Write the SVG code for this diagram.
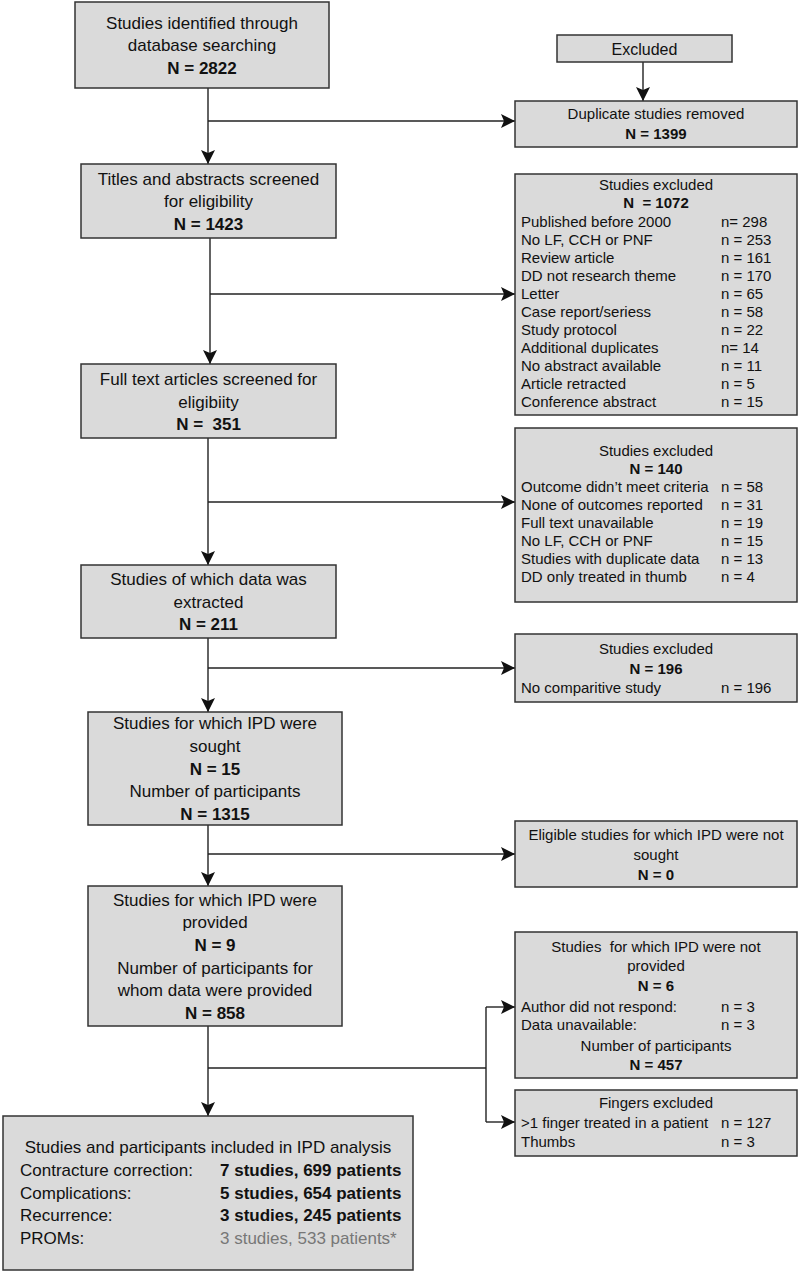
<svg xmlns="http://www.w3.org/2000/svg" width="800" height="1272" viewBox="0 0 800 1272">
<defs>
<marker id="ah" markerWidth="14" markerHeight="14" refX="14" refY="7" orient="auto" markerUnits="userSpaceOnUse"><path d="M0,0 L14,7 L0,14 L3,7 z" fill="#111"/></marker>
</defs>
<style>
.box{fill:#dadada;stroke:#333;stroke-width:1.5}
text{font-family:"Liberation Sans",Arial,sans-serif;fill:#111}
.m{font-size:17px;text-anchor:middle}
.s{font-size:15px}
.b{font-weight:bold}
.c{text-anchor:middle}
.g{fill:#777}
.conn path{fill:none;stroke:#222;stroke-width:1.4}
</style>
<rect width="800" height="1272" fill="#fff"/>

<g class="conn">
<path d="M208,88 V164" marker-end="url(#ah)"/>
<path d="M208,121 H515" marker-end="url(#ah)"/>
<path d="M643,62 V101" marker-end="url(#ah)"/>
<path d="M210,238 V364" marker-end="url(#ah)"/>
<path d="M210,294 H515" marker-end="url(#ah)"/>
<path d="M208,438 V565" marker-end="url(#ah)"/>
<path d="M208,502 H515" marker-end="url(#ah)"/>
<path d="M208,638 V712" marker-end="url(#ah)"/>
<path d="M208,668 H515" marker-end="url(#ah)"/>
<path d="M208,825 V886" marker-end="url(#ah)"/>
<path d="M208,854 H515" marker-end="url(#ah)"/>
<path d="M208,1026 V1116" marker-end="url(#ah)"/>
<path d="M208,1068 H486"/>
<path d="M486,1007 V1122"/>
<path d="M486,1007 H515" marker-end="url(#ah)"/>
<path d="M486,1122 H515" marker-end="url(#ah)"/>
</g>

<g id="identified">
<rect class="box" x="75" y="2" width="254" height="86"/>
<text class="m" x="202" y="29">Studies identified through</text>
<text class="m" x="202" y="51">database searching</text>
<text class="m b" x="202" y="74">N = 2822</text>
</g>

<g id="screened">
<rect class="box" x="81" y="164" width="255" height="74"/>
<text class="m" x="208.5" y="185">Titles and abstracts screened</text>
<text class="m" x="208.5" y="207">for eligibility</text>
<text class="m b" x="208.5" y="230">N = 1423</text>
</g>

<g id="fulltext">
<rect class="box" x="81" y="364" width="255" height="74"/>
<text class="m" x="208.5" y="385">Full text articles screened for</text>
<text class="m" x="208.5" y="408">eligibiity</text>
<text class="m b" x="208.5" y="430" xml:space="preserve">N =  351</text>
</g>

<g id="extracted">
<rect class="box" x="81" y="565" width="255" height="73"/>
<text class="m" x="208.5" y="585">Studies of which data was</text>
<text class="m" x="208.5" y="608">extracted</text>
<text class="m b" x="208.5" y="630">N = 211</text>
</g>

<g id="sought">
<rect class="box" x="88" y="712" width="254" height="113"/>
<text class="m" x="215" y="729">Studies for which IPD were</text>
<text class="m" x="215" y="752">sought</text>
<text class="m b" x="215" y="775">N = 15</text>
<text class="m" x="215" y="797">Number of participants</text>
<text class="m b" x="215" y="820">N = 1315</text>
</g>

<g id="provided">
<rect class="box" x="88" y="886" width="254" height="140"/>
<text class="m" x="215" y="906">Studies for which IPD were</text>
<text class="m" x="215" y="928">provided</text>
<text class="m b" x="215" y="951">N = 9</text>
<text class="m" x="215" y="974">Number of participants for</text>
<text class="m" x="215" y="996">whom data were provided</text>
<text class="m b" x="215" y="1019">N = 858</text>
</g>

<g id="included">
<rect class="box" x="3" y="1116" width="410" height="154"/>
<text class="m" x="208" y="1153">Studies and participants included in IPD analysis</text>
<text style="font-size:17px" x="20" y="1176">Contracture correction:</text>
<text style="font-size:17px" class="b" x="220" y="1176">7 studies, 699 patients</text>
<text style="font-size:17px" x="20" y="1199">Complications:</text>
<text style="font-size:17px" class="b" x="220" y="1199">5 studies, 654 patients</text>
<text style="font-size:17px" x="20" y="1221">Recurrence:</text>
<text style="font-size:17px" class="b" x="220" y="1221">3 studies, 245 patients</text>
<text style="font-size:17px" x="20" y="1244">PROMs:</text>
<text style="font-size:17px" class="g" x="220" y="1244">3 studies, 533 patients*</text>
</g>

<g id="excluded">
<rect class="box" x="557" y="35" width="175" height="27"/>
<text class="c" style="font-size:16px" x="644.5" y="54.5">Excluded</text>
</g>

<g id="duplicates">
<rect class="box" x="515" y="101" width="282" height="46"/>
<text class="s c" x="656" y="119">Duplicate studies removed</text>
<text class="s c b" x="656" y="139">N = 1399</text>
</g>

<g id="excl1072">
<rect class="box" x="515" y="174" width="282" height="241"/>
<text class="s c" x="656" y="190">Studies excluded</text>
<text class="s c b" x="656" y="208" xml:space="preserve">N  = 1072</text>
<text class="s" x="521" y="227">Published before 2000</text><text class="s" x="721" y="227">n= 298</text>
<text class="s" x="521" y="245">No LF, CCH or PNF</text><text class="s" x="721" y="245">n = 253</text>
<text class="s" x="521" y="263">Review article</text><text class="s" x="721" y="263">n = 161</text>
<text class="s" x="521" y="281">DD not research theme</text><text class="s" x="721" y="281">n = 170</text>
<text class="s" x="521" y="299">Letter</text><text class="s" x="721" y="299">n = 65</text>
<text class="s" x="521" y="317">Case report/seriess</text><text class="s" x="721" y="317">n = 58</text>
<text class="s" x="521" y="335">Study protocol</text><text class="s" x="721" y="335">n = 22</text>
<text class="s" x="521" y="353">Additional duplicates</text><text class="s" x="721" y="353">n= 14</text>
<text class="s" x="521" y="371">No abstract available</text><text class="s" x="721" y="371">n = 11</text>
<text class="s" x="521" y="389">Article retracted</text><text class="s" x="721" y="389">n = 5</text>
<text class="s" x="521" y="407">Conference abstract</text><text class="s" x="721" y="407">n = 15</text>
</g>

<g id="excl140">
<rect class="box" x="515" y="428" width="282" height="174"/>
<text class="s c" x="656" y="456">Studies excluded</text>
<text class="s c b" x="656" y="474">N = 140</text>
<text class="s" x="521" y="492">Outcome didn’t meet criteria</text><text class="s" x="721" y="492">n = 58</text>
<text class="s" x="521" y="510">None of outcomes reported</text><text class="s" x="721" y="510">n = 31</text>
<text class="s" x="521" y="528">Full text unavailable</text><text class="s" x="721" y="528">n = 19</text>
<text class="s" x="521" y="546">No LF, CCH or PNF</text><text class="s" x="721" y="546">n = 15</text>
<text class="s" x="521" y="564">Studies with duplicate data</text><text class="s" x="721" y="564">n = 13</text>
<text class="s" x="521" y="582">DD only treated in thumb</text><text class="s" x="721" y="582">n = 4</text>
</g>

<g id="excl196">
<rect class="box" x="515" y="634" width="282" height="68"/>
<text class="s c" x="656" y="654">Studies excluded</text>
<text class="s c b" x="656" y="674">N = 196</text>
<text class="s" x="521" y="693">No comparitive study</text><text class="s" x="721" y="693">n = 196</text>
</g>

<g id="notsought">
<rect class="box" x="515" y="821" width="282" height="66"/>
<text class="s c" x="656" y="840">Eligible studies for which IPD were not</text>
<text class="s c" x="656" y="860">sought</text>
<text class="s c b" x="656" y="880">N = 0</text>
</g>

<g id="notprovided">
<rect class="box" x="515" y="932" width="282" height="146"/>
<text class="s c" x="656" y="952" xml:space="preserve">Studies  for which IPD were not</text>
<text class="s c" x="656" y="971">provided</text>
<text class="s c b" x="656" y="991">N = 6</text>
<text class="s" x="521" y="1012">Author did not respond:</text><text class="s" x="721" y="1012">n = 3</text>
<text class="s" x="521" y="1030">Data unavailable:</text><text class="s" x="721" y="1030">n = 3</text>
<text class="s c" x="656" y="1051">Number of participants</text>
<text class="s c b" x="656" y="1070">N = 457</text>
</g>

<g id="fingers">
<rect class="box" x="515" y="1090" width="282" height="66"/>
<text class="s c" x="656" y="1108">Fingers excluded</text>
<text class="s" x="521" y="1128">&gt;1 finger treated in a patient</text><text class="s" x="721" y="1128">n = 127</text>
<text class="s" x="521" y="1147">Thumbs</text><text class="s" x="721" y="1147">n = 3</text>
</g>
</svg>
